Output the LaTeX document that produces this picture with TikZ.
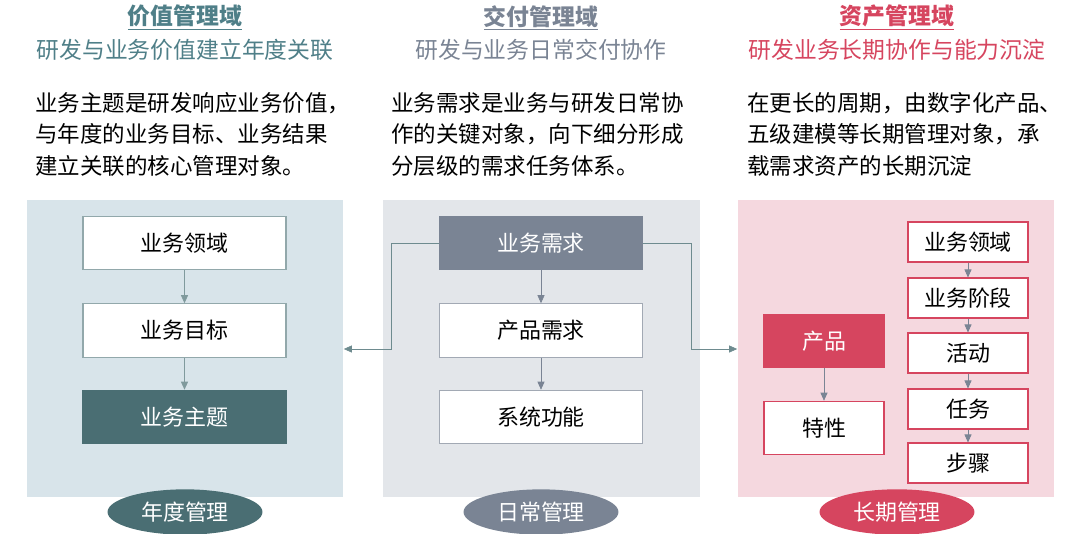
\documentclass[tikz,border=0pt]{standalone}
\usepackage{fontspec}
\setmainfont{Noto Sans CJK SC}
\usetikzlibrary{arrows.meta,positioning,calc,shapes.geometric}
\definecolor{tealc}{HTML}{4A6E73}
\definecolor{tealt}{HTML}{4F7F88}
\definecolor{grayc}{HTML}{7A8494}
\definecolor{redc}{HTML}{D6455F}
\definecolor{bgblue}{HTML}{D8E4EA}
\definecolor{bggray}{HTML}{E3E6EA}
\definecolor{bgpink}{HTML}{F5D8DF}
\tikzset{>={Triangle[width=1.4mm,length=1.6mm]}}
\tikzset{panel/.style = {draw=none, minimum width=6.34cm, minimum height=5.94cm},
        box/.style = {draw=#1, fill=white, line width=0.6pt, minimum width=4.06cm,
                  minimum height=1.07cm, font=\fontsize{12.5}{14}\selectfont},
        sbox/.style = {draw=redc, fill=white, line width=0.6pt, minimum width=2.4cm,
                  minimum height=0.8cm, font=\fontsize{12.5}{14}\selectfont},
        oval/.style = {ellipse, fill=#1, text=white, minimum width=3.1cm,
                  minimum height=0.8cm, font=\fontsize{12.5}{14}\selectfont},
        ttl/.style = {font=\fontsize{13}{15}\bfseries\selectfont, text=#1},
        sub/.style = {font=\fontsize{13}{15}\selectfont, text=#1},
        desc/.style = {align=left, anchor=north west, font=\fontsize{12.8}{18}\selectfont}
    }
\begin{document}
\begin{tikzpicture}[x=0.02cm, y=-0.02cm]
    \useasboundingbox (0,0) rectangle (1080,534);
    % panels
    \node[panel, fill=bgblue] (pv) at (185,348.5) {};
    \node[panel, fill=bggray] (pd) at (541.5,348.5) {};
    \node[panel, fill=bgpink] (pa) at (896,348.5) {};

    % headings
    \node[ttl=tealt] (tv) at (185,18) {\underline{价值管理域}};
    \node[sub=tealt] (sv) at (185,50) {研发与业务价值建立年度关联};
    \node[ttl=grayc] (td) at (541,18) {\underline{交付管理域}};
    \node[sub=grayc] (sd) at (541,50) {研发与业务日常交付协作};
    \node[ttl=redc] (ta) at (897,18) {\underline{资产管理域}};
    \node[sub=redc] (sa) at (897,50) {研发业务长期协作与能力沉淀};

    \node[desc] (dv) at (29,86) {业务主题是研发响应业务价值，\\与年度的业务目标、业务结果\\建立关联的核心管理对象。};
    \node[desc] (dd) at (385,86) {业务需求是业务与研发日常协\\作的关键对象，向下细分形成\\分层级的需求任务体系。};
    \node[desc] (da) at (741,86) {在更长的周期，由数字化产品、\\五级建模等长期管理对象，承\\载需求资产的长期沉淀};

    % value column
    \node[box=tealc!60] (v1) at (184.5,243) {业务领域};
    \node[box=tealc!60] (v2) at (184.5,330.5) {业务目标};
    \node[box=tealc, fill=tealc, text=white] (v3) at (184.5,417) {业务主题};
    \draw[->, tealc!70] (v1) -- (v2);
    \draw[->, tealc!70] (v2) -- (v3);

    % delivery column
    \node[box=grayc, fill=grayc, text=white] (d1) at (541,243) {业务需求};
    \node[box=grayc!70] (d2) at (541,330.5) {产品需求};
    \node[box=grayc!70] (d3) at (541,417) {系统功能};
    \draw[->, grayc] (d1) -- (d2);
    \draw[->, grayc] (d2) -- (d3);
    \draw[->, tealc!80] (d1.west) -- ++(-48,0) |- (pv.east |- 0,349);
    \draw[->, tealc!80] (d1.east) -- ++(48,0) |- (pa.west |- 0,349);

    % asset column
    \node[box=redc, fill=redc, text=white, minimum width=2.4cm] (p1) at (824,341) {产品};
    \node[box=redc, minimum width=2.4cm] (p2) at (824,428) {特性};
    \draw[->, grayc] (p1) -- (p2);
    \node[sbox] (a1) at (968,242) {业务领域};
    \node[sbox] (a2) at (968,298) {业务阶段};
    \node[sbox] (a3) at (968,353) {活动};
    \node[sbox] (a4) at (968,409) {任务};
    \node[sbox] (a5) at (968,463) {步骤};
    \foreach \a/\b in {a1/a2,a2/a3,a3/a4,a4/a5}
      \draw[->, grayc] (\a) -- (\b);

    % time scales
    \node[oval=tealc] (ov) at (185,512) {年度管理};
    \node[oval=grayc] (od) at (541,512) {日常管理};
    \node[oval=redc] (oa) at (897,512) {长期管理};
\end{tikzpicture}
\end{document}
